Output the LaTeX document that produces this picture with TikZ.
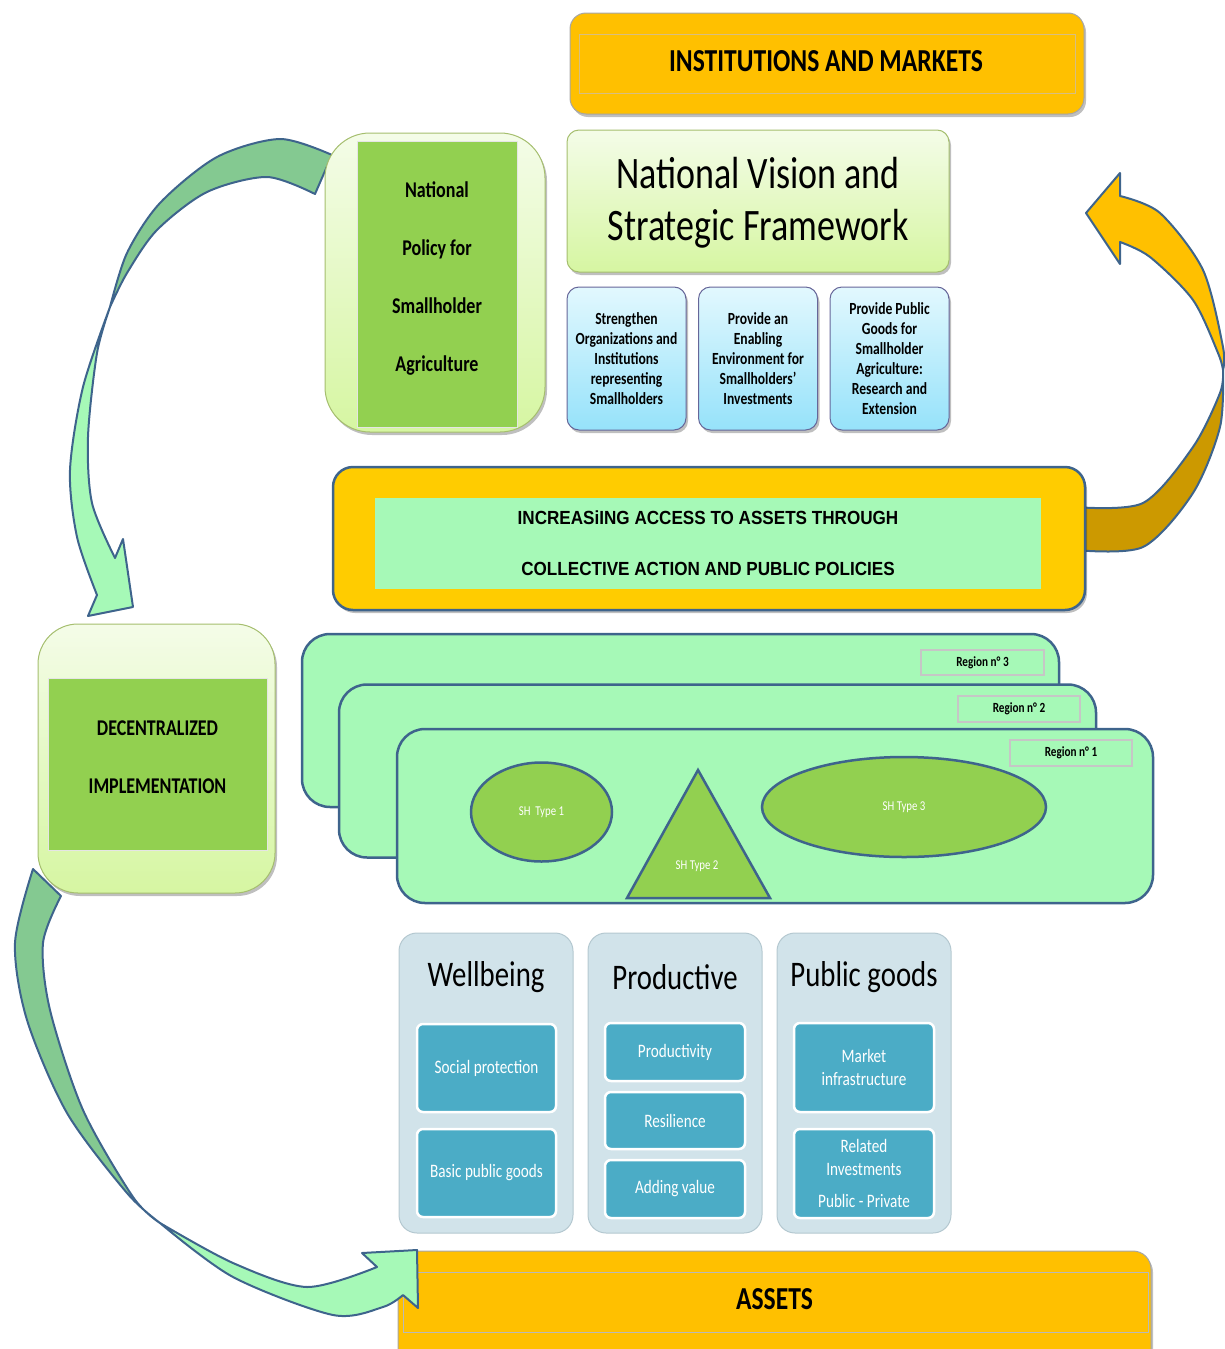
\documentclass[tikz,border=0pt]{standalone}
\usepackage{fontspec}
\setmainfont{Carlito}[FakeStretch=0.8]
\newfontfamily\arialfont{Liberation Sans}[FakeStretch=0.9]
\usetikzlibrary{shadows}
\usetikzlibrary{shapes.geometric}
\definecolor{instorange}{RGB}{255,192,0}
\definecolor{incyellow}{RGB}{255,204,0}
\definecolor{mint}{RGB}{166,249,183}
\definecolor{leafgreen}{RGB}{146,208,80}
\definecolor{arrowgreen}{RGB}{132,201,145}
\definecolor{arrowgold}{RGB}{204,153,0}
\definecolor{edgeblue}{RGB}{62,100,140}
\definecolor{panelgray}{RGB}{209,227,234}
\definecolor{panelline}{RGB}{180,200,208}
\definecolor{boxteal}{RGB}{75,172,198}
\definecolor{paletop}{RGB}{244,252,232}
\definecolor{palebot}{RGB}{214,246,162}
\definecolor{skytop}{RGB}{226,248,254}
\definecolor{skybot}{RGB}{150,226,250}
\definecolor{oliveline}{RGB}{165,190,110}
\definecolor{tanline}{RGB}{215,190,130}
\newcommand{\fs}[2]{\fontsize{#1}{#2}\selectfont}
\tikzset{
  softshadow/.style = {drop shadow={shadow xshift=2pt, shadow yshift=-3pt,
                                     opacity=0.25, fill=black}},
  orangebox/.style  = {draw=gray!70, line width=1pt, fill=instorange,
                       rounded corners=16pt, softshadow},
  paledbox/.style   = {draw=oliveline, line width=1pt, top color=paletop,
                       bottom color=palebot, softshadow},
  skybox/.style     = {draw=gray!80!blue, line width=1pt, top color=skytop,
                       bottom color=skybot, rounded corners=12pt,
                       minimum width=119pt, minimum height=143pt, softshadow},
  leafbox/.style    = {draw=white!80!gray, line width=1pt, fill=leafgreen},
  regionbox/.style  = {draw=edgeblue, line width=2.5pt, fill=mint,
                       rounded corners=28pt, minimum width=757pt,
                       minimum height=173pt},
  regiontag/.style  = {draw=gray!45, line width=1.5pt, fill=mint,
                       minimum width=122pt, minimum height=26pt,
                       font=\fs{14}{16}\bfseries},
  shshape/.style    = {draw=edgeblue, line width=2.5pt, fill=leafgreen},
  column/.style     = {draw=panelline, line width=1pt, fill=panelgray,
                       rounded corners=18pt, minimum width=174pt,
                       minimum height=300pt},
  tealbox/.style    = {draw=white, line width=2.5pt, fill=boxteal,
                       rounded corners=6pt, minimum width=140pt,
                       text=white, align=center, font=\fs{19}{23}},
  coltitle/.style   = {font=\fs{36}{40}},
  arrowline/.style  = {draw=edgeblue, line width=2pt, line join=round},
}
\begin{document}
\begin{tikzpicture}[x=1pt, y=-1pt]
  \useasboundingbox (0,0) rectangle (1225,1349);

  % return arrow on the right
  \filldraw[arrowline, fill=arrowgold]
    plot[smooth] coordinates {(1075,550) (1143,547) (1193,493) (1220,427) (1223,370)}
    -- plot[smooth] coordinates {(1223,370) (1220,393) (1193,447) (1143,503) (1075,507)}
    -- cycle;
  \filldraw[arrowline, fill=instorange]
    plot[smooth] coordinates {(1223,370) (1223,347) (1203,270) (1160,213) (1120,196)}
    -- (1120,173) -- (1086,213) -- (1120,264) -- (1120,242)
    -- plot[smooth] coordinates {(1120,242) (1150,257) (1193,300) (1218,353) (1223,370)}
    -- cycle;

  % arrow from national policy down to decentralized implementation
  \filldraw[arrowline, fill=arrowgreen]
    plot[smooth] coordinates {(332,155) (280,139) (217,157) (160,203) (127,253) (110,307)}
    -- plot[smooth] coordinates {(110,307) (127,273) (157,230) (207,192) (267,177) (315,194)}
    -- cycle;
  \filldraw[arrowline, fill=mint]
    plot[smooth] coordinates {(110,307) (83,387) (70,470) (77,537) (97,595)}
    -- (88,616) -- (133,607) -- (123,539) -- (115,558)
    -- plot[smooth] coordinates {(115,558) (92,503) (88,437) (97,353) (110,307)}
    -- cycle;

  % institutions and markets
  \node[orangebox, minimum width=514pt, minimum height=101pt] (inst) at (827,63.5) {};
  \node[draw=tanline, line width=0.8pt, minimum width=496pt, minimum height=59pt]
    (instframe) at (827,63.5) {};
  \node[font=\fs{32}{38}\bfseries] (insttext) at (826,61) {INSTITUTIONS AND MARKETS};

  % national policy
  \node[paledbox, rounded corners=45pt, minimum width=220pt, minimum height=299pt]
    (policy) at (435,282.5) {};
  \node[leafbox, minimum width=160pt, minimum height=286pt] (policyin) at (437,284) {};
  \node[align=center, font=\fs{22.5}{58}\bfseries] (policytext) at (437,278)
    {National\\Policy for\\Smallholder\\Agriculture};

  % vision and the three pillars
  \node[paledbox, rounded corners=12pt, minimum width=382pt, minimum height=142pt]
    (vision) at (758,201) {};
  \node[align=center, font=\fs{45}{52}] (visiontext) at (758,203)
    {National Vision and\\Strategic Framework};
  \node[skybox, align=center, font=\fs{17}{20}\bfseries] (pillarA) at (626.5,358.5)
    {Strengthen\\Organizations and\\Institutions\\representing\\Smallholders};
  \node[skybox, align=center, font=\fs{17}{20}\bfseries] (pillarB) at (758,358.5)
    {Provide an\\Enabling\\Environment for\\Smallholders'\\Investments};
  \node[skybox, align=center, font=\fs{17}{20}\bfseries] (pillarC) at (889.5,358.5)
    {Provide Public\\Goods for\\Smallholder\\Agriculture:\\Research and\\Extension};

  % increasing access
  \node[draw=edgeblue, line width=2.5pt, fill=incyellow, rounded corners=20pt,
        minimum width=752pt, minimum height=143pt, softshadow] (access) at (709,538.5) {};
  \node[fill=mint, minimum width=666pt, minimum height=91pt, align=center,
        font=\arialfont\bfseries\fs{19}{51}] (accesstext) at (708,543.5)
    {INCREASiING ACCESS TO ASSETS THROUGH\\COLLECTIVE ACTION AND PUBLIC POLICIES};

  % decentralized implementation
  \node[paledbox, rounded corners=40pt, minimum width=237pt, minimum height=269pt]
    (decent) at (156.5,758.5) {};
  \node[leafbox, minimum width=219pt, minimum height=172pt] (decentin) at (157.5,764) {};
  \node[align=center, font=\fs{22.5}{58}\bfseries] (decenttext) at (157.5,757)
    {DECENTRALIZED\\IMPLEMENTATION};

  % regions
  \node[regionbox] (region3) at (680.5,720.5) {};
  \node[regiontag, minimum width=123pt, minimum height=25pt] (tag3) at (982.5,662.5) {Region n° 3};
  \node[regionbox] (region2) at (717.5,771) {};
  \node[regiontag] (tag2) at (1019,709) {Region n° 2};
  \node[regionbox, minimum width=756pt, minimum height=174pt] (region1) at (775,816) {};
  \node[regiontag] (tag1) at (1071,753) {Region n° 1};

  \node[shshape, ellipse, minimum width=141pt, minimum height=99pt, text=white,
        font=\fs{13.5}{16}] (type1) at (541.5,812) {SH\ \ Type 1};
  \filldraw[shshape] (627,898) -- (698,770) -- (770,898) -- cycle;
  \node[text=white, font=\fs{13.5}{16}] (type2) at (697,866) {SH Type 2};
  \node[shshape, ellipse, minimum width=284pt, minimum height=100pt, text=white,
        font=\fs{13.5}{16}] (type3) at (904,807) {SH Type 3};

  % asset columns
  \node[column] (wellbeing) at (486,1083) {};
  \node[column] (productive) at (675,1083) {};
  \node[column] (publicgoods) at (864,1083) {};
  \node[coltitle] at (486,977) {Wellbeing};
  \node[coltitle] at (675,977) {Productive};
  \node[coltitle] at (864,977) {Public goods};

  \node[tealbox, minimum width=139pt, minimum height=88pt] (social) at (486.5,1068) {Social protection};
  \node[tealbox, minimum width=139pt, minimum height=88pt] (basic) at (486.5,1173) {Basic public goods};
  \node[tealbox, minimum height=58pt] (productivity) at (675,1052) {Productivity};
  \node[tealbox, minimum height=57pt] (resilience) at (675,1120.5) {Resilience};
  \node[tealbox, minimum height=58pt] (adding) at (675,1189) {Adding value};
  \node[tealbox, minimum height=89pt] (market) at (864,1067.5) {Market\\infrastructure};
  \node[tealbox, minimum height=89pt] (related) at (864,1173.5)
    {Related\\Investments\\[9pt]Public - Private};

  % assets
  \node[orangebox, rounded corners=18pt, minimum width=753pt, minimum height=118pt]
    (assets) at (774.5,1310) {};
  \node[draw=gray!55, line width=1pt, minimum width=745pt, minimum height=60pt]
    (assetsframe) at (775.5,1302) {};
  \node[font=\fs{32}{38}\bfseries] (assetstext) at (774.5,1299) {ASSETS};

  % arrow from decentralized implementation to assets
  \filldraw[arrowline, fill=arrowgreen]
    plot[smooth] coordinates {(33,869) (15,943) (27,1020) (67,1113) (127,1193) (160,1223)}
    -- plot[smooth] coordinates {(160,1223) (133,1197) (83,1110) (50,1010) (43,943) (61,896)}
    -- cycle;
  \filldraw[arrowline, fill=mint]
    plot[smooth] coordinates {(160,1223) (233,1277) (333,1315) (383,1307) (403,1295)}
    -- (418,1308) -- (417,1250) -- (362,1253) -- (377,1267)
    -- plot[smooth] coordinates {(377,1267) (307,1287) (233,1263) (160,1223)}
    -- cycle;
\end{tikzpicture}
\end{document}
